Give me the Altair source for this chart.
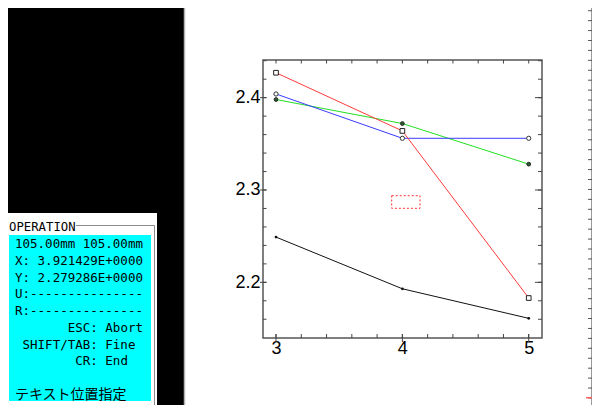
import altair as alt
import pandas as pd
import numpy as np

# ---- chart data ----
x_vals = [3, 4, 5]
red_vals = [2.427, 2.364, 2.183]
blue_vals = [2.404, 2.356, 2.356]
green_vals = [2.398, 2.372, 2.328]
black_vals = [2.249, 2.193, 2.161]

x_labels = [3, 4, 5]
y_labels = [2.2, 2.3, 2.4]
x_minor = [round(3 + 0.2 * i, 2) for i in range(11)]
y_minor = [round(2.16 + 0.02 * i, 2) for i in range(15)]

panel_lines = [
    "105.00mm 105.00mm",
    "X: 3.921429E+0000",
    "Y: 2.279286E+0000",
    "U:---------------",
    "R:---------------",
    "       ESC: Abort",
    " SHIFT/TAB: Fine",
    "        CR: End",
]
panel_jp = "テキスト位置指定"
panel_title = "OPERATION"

# ---- layout (page pixels) ----
PL, PT = 263, 60          # plot origin on page
W, H = 279, 278
RIGHT, BOTTOM = 592, 405  # last page pixel the chart can reach without overflow
ONE = pd.DataFrame({"a": [0]})

xs = alt.Scale(domain=[2.897, 5.105], nice=False, zero=False)
ys = alt.Scale(domain=[2.1397, 2.4408], nice=False, zero=False)
xaxis = alt.Axis(values=x_labels, format="d", ticks=False, tickSize=0, domain=False,
                 grid=False, labelFontSize=18, labelFont="Liberation Sans",
                 labelColor="black", labelPadding=1, title=None)
yaxis = alt.Axis(values=y_labels, format=".1f", ticks=False, tickSize=0, domain=False,
                 grid=False, labelFontSize=18, labelFont="Liberation Sans",
                 labelColor="black", labelPadding=3, title=None)


def rx(px):
    return px - PL


def ry(py):
    return py - PT


def rect(x0, y0, x1, y1, **kw):
    return alt.Chart(ONE).mark_rect(**kw).encode(
        x=alt.value(rx(x0)), x2=alt.value(rx(x1)),
        y=alt.value(ry(y0)), y2=alt.value(ry(y1)))


def rule(x0, y0, x1, y1, **kw):
    return alt.Chart(ONE).mark_rule(**kw).encode(
        x=alt.value(rx(x0)), x2=alt.value(rx(x1)),
        y=alt.value(ry(y0)), y2=alt.value(ry(y1)))


layers = []

# ---- screen decorations ----
layers.append(rect(-10, -10, 184, 420, color="black"))
layers.append(rule(184.5, 0, 184.5, 413, color="#b4b4b4", strokeWidth=1.5))
layers.append(rule(RIGHT - 0.5, 0, RIGHT - 0.5, 413, color="#9a9a9a", strokeWidth=1))
ruler = pd.DataFrame({"py": [ry(10.7 + 9.93 * k) for k in range(41)]})
layers.append(alt.Chart(ruler).mark_rule(color="#555", strokeWidth=1).encode(
    y=alt.Y("py:Q", scale=None), x=alt.value(rx(RIGHT - 4)), x2=alt.value(rx(RIGHT))))
layers.append(rule(RIGHT - 6, 397.7, RIGHT, 397.7, color="#ff6060", strokeWidth=1.5))

# operation panel
layers.append(rect(-10, 213, 157, 420, color="white"))
layers.append(rect(3.5, 225.5, 154.5, 406.5, fill="white", stroke="#8c8c8c", strokeWidth=1))
layers.append(rect(7, 218, 76, 232, color="white"))
layers.append(rect(9, 235, 151, 401, color="#00ffff"))
layers.append(alt.Chart(ONE).mark_text(
    font="DejaVu Sans Mono", fontSize=12.3, align="left", baseline="alphabetic",
    color="black").encode(x=alt.value(rx(9)), y=alt.value(ry(230.5)),
                          text=alt.value(panel_title)))

CW = 7.53
rows = []
for i, s in enumerate(panel_lines):
    lead = len(s) - len(s.lstrip(" "))
    rows.append({"t": s.strip(), "px": rx(15 + lead * CW), "py": ry(248.3 + 16.7 * i)})
ptxt = pd.DataFrame(rows)
layers.append(alt.Chart(ptxt).mark_text(
    font="DejaVu Sans Mono", fontSize=12.5, align="left", baseline="alphabetic",
    color="black").encode(x=alt.X("px:Q", scale=None), y=alt.Y("py:Q", scale=None),
                          text="t:N"))
layers.append(alt.Chart(ONE).mark_text(
    font="Noto Sans CJK JP", fontSize=14, align="left", baseline="alphabetic",
    color="black").encode(x=alt.value(rx(15)), y=alt.value(ry(398.5)),
                          text=alt.value(panel_jp)))

# cursor box
layers.append(rect(391.7, 195.7, 420, 208.3, fill="transparent", stroke="#ff3030",
                   strokeWidth=1, strokeDash=[2, 2]))

# ---- axes ticks (drawn as rules) ----
xm = pd.DataFrame({"v": x_minor})
ym = pd.DataFrame({"v": y_minor})
xM = pd.DataFrame({"v": x_labels})
yM = pd.DataFrame({"v": y_labels})
tick_col = "#444"
X = lambda: alt.X("v:Q", scale=xs, axis=xaxis)
Y = lambda: alt.Y("v:Q", scale=ys, axis=yaxis)
layers.append(alt.Chart(xm).mark_rule(color=tick_col).encode(x=X(), y=alt.value(H), y2=alt.value(H - 4)))
layers.append(alt.Chart(xm).mark_rule(color=tick_col).encode(x=X(), y=alt.value(0), y2=alt.value(3.5)))
layers.append(alt.Chart(xM).mark_rule(color=tick_col).encode(x=X(), y=alt.value(H - 4), y2=alt.value(H + 4)))
layers.append(alt.Chart(ym).mark_rule(color=tick_col).encode(y=Y(), x=alt.value(0), x2=alt.value(3.5)))
layers.append(alt.Chart(ym).mark_rule(color=tick_col).encode(y=Y(), x=alt.value(W), x2=alt.value(W - 4)))
layers.append(alt.Chart(yM).mark_rule(color=tick_col).encode(y=Y(), x=alt.value(-3), x2=alt.value(3.5)))
layers.append(alt.Chart(yM).mark_rule(color=tick_col).encode(y=Y(), x=alt.value(W), x2=alt.value(W - 7)))

# ---- data series ----
series = [
    ("black", black_vals, "#111111"),
    ("green", green_vals, "#22e022"),
    ("blue", blue_vals, "#3a3aff"),
    ("red", red_vals, "#ff3a3a"),
]
frames = {name: pd.DataFrame({"x": x_vals, "y": vals}) for name, vals, _ in series}
XD = alt.X("x:Q", scale=xs, axis=xaxis)
YD = alt.Y("y:Q", scale=ys, axis=yaxis)
for name, vals, col in series:
    layers.append(alt.Chart(frames[name]).mark_line(color=col, strokeWidth=1).encode(x=XD, y=YD))

layers.append(alt.Chart(frames["black"]).mark_point(
    shape="circle", filled=True, color="#111", size=8, opacity=1).encode(x=XD, y=YD))
layers.append(alt.Chart(frames["green"]).mark_point(
    shape="circle", fill="#2f5f2f", stroke="#222", strokeWidth=1, size=14, opacity=1).encode(x=XD, y=YD))
layers.append(alt.Chart(frames["blue"]).mark_point(
    shape="circle", fill="white", stroke="#333", strokeWidth=1, size=18, opacity=1).encode(x=XD, y=YD))
layers.append(alt.Chart(frames["red"]).mark_point(
    shape="square", fill="white", stroke="#222", strokeWidth=1, size=22, opacity=1).encode(x=XD, y=YD))

chart = alt.layer(*layers).properties(
    width=W, height=H,
    padding={"left": PL - 8, "top": PT - 8, "right": RIGHT - PL - W, "bottom": BOTTOM - PT - H},
    autosize=alt.AutoSizeParams(type="none"),
    background="white",
).configure_view(stroke="#555555", strokeWidth=1.5)

chart.save("out.html", embed_options={"renderer": "svg", "actions": False})
